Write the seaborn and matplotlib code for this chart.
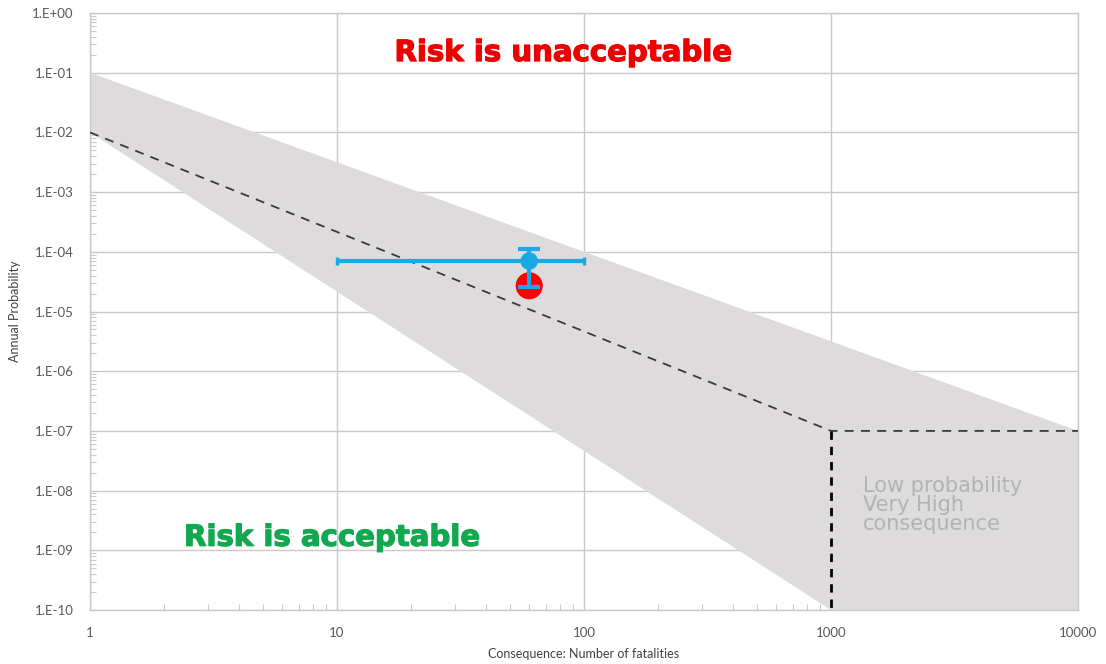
import numpy as np
import pandas as pd
import matplotlib
matplotlib.use("Agg")
import matplotlib.pyplot as plt
import matplotlib.patheffects as pe
import seaborn as sns
from matplotlib.ticker import LogLocator, FixedLocator, FuncFormatter

# Tolerability band (consequence, annual probability)
band_upper_x = [1, 10000]
band_upper_y = [1e-1, 1e-7]
band_lower_x = [1, 1000, 10000]
band_lower_y = [1e-2, 1e-10, 1e-10]

# Criterion line and cut-off
criterion_x = [1, 1000, 10000]
criterion_y = [1e-2, 1e-7, 1e-7]
cutoff_x = [1000, 1000]
cutoff_y = [1e-7, 1e-10]

# Estimated event
est_x = [60]
est_y = [7e-5]
est_xerr_lo = [10]
est_xerr_hi = [100]
est_yerr_lo = [2.6e-5]
est_yerr_hi = [1.1e-4]

# Reference event
ref_x = [60]
ref_y = [2.7e-5]

x_ticks = [1, 10, 100, 1000, 10000]
y_ticks = [1e-10, 1e-9, 1e-8, 1e-7, 1e-6, 1e-5, 1e-4, 1e-3, 1e-2, 1e-1, 1e0]

sns.set_theme(style="whitegrid")
plt.rcParams['font.family'] = ['Lato', 'DejaVu Sans']

fig = plt.figure(figsize=(11.06, 6.64), dpi=100)
ax = fig.add_axes([0.0814, 0.0813, 0.8933, 0.8991])
ax.set_xscale("log")
ax.set_yscale("log")

# Grey band
poly_x = band_upper_x + band_lower_x[::-1]
poly_y = band_upper_y + band_lower_y[::-1]
ax.fill(poly_x, poly_y, color="#dddbdb", lw=0, zorder=1)

crit = pd.DataFrame({"x": criterion_x, "y": criterion_y})
sns.lineplot(data=crit, x="x", y="y", ax=ax, color="#3a3a3a", lw=1.3,
             linestyle=(0, (5, 4)), zorder=3, sort=False)
cut = pd.DataFrame({"x": cutoff_x, "y": cutoff_y})
sns.lineplot(data=cut, x="x", y="y", ax=ax, color="black", lw=2.0,
             linestyle=(0, (3, 2.5)), zorder=3, sort=False, orient="y")

# Reference point (red)
ref = pd.DataFrame({"x": ref_x, "y": ref_y})
sns.scatterplot(data=ref, x="x", y="y", ax=ax, color="#ff0000", s=380,
                edgecolor="none", zorder=4)

# Estimate with uncertainty (blue)
xerr = np.array([[est_x[0] - est_xerr_lo[0]], [est_xerr_hi[0] - est_x[0]]])
yerr = np.array([[est_y[0] - est_yerr_lo[0]], [est_yerr_hi[0] - est_y[0]]])
ax.errorbar(est_x, est_y, xerr=xerr, fmt="none", ecolor="#1aa9e5",
            elinewidth=3, capsize=3, capthick=2.5, zorder=5)
ax.errorbar(est_x, est_y, yerr=yerr, fmt="none", ecolor="#1aa9e5",
            elinewidth=3, capsize=8, capthick=3, zorder=5)
est = pd.DataFrame({"x": est_x, "y": est_y})
sns.scatterplot(data=est, x="x", y="y", ax=ax, color="#1aa9e5", s=160,
                edgecolor="none", zorder=6)

ax.set_xlim(1, 10000)
ax.set_ylim(1e-10, 1)

ax.xaxis.set_major_locator(FixedLocator(x_ticks))
ax.yaxis.set_major_locator(FixedLocator(y_ticks))
ax.xaxis.set_minor_locator(LogLocator(base=10, subs=np.arange(2, 10), numticks=20))
ax.yaxis.set_minor_locator(LogLocator(base=10, subs=np.arange(2, 10), numticks=20))
ax.xaxis.set_major_formatter(FuncFormatter(lambda v, p: f"{v:g}"))
ax.yaxis.set_major_formatter(
    FuncFormatter(lambda v, p: "1.E" + ("+" if np.log10(v) >= 0 else "-") + f"{abs(int(round(np.log10(v)))):02d}"))
ax.yaxis.set_minor_formatter(plt.NullFormatter())
ax.xaxis.set_minor_formatter(plt.NullFormatter())

ax.grid(True, which="major", color="#c9c9c9", lw=1.0, zorder=0)
ax.grid(False, which="minor")
ax.set_axisbelow(True)
for s in ax.spines.values():
    s.set_color("#c9c9c9")
    s.set_linewidth(1.0)
ax.set_facecolor("white")

ax.tick_params(axis="both", which="major", length=0, labelsize=9.5,
               labelcolor="#595959", pad=12)
ax.tick_params(axis="both", which="minor", direction="in", length=4,
               color="#c9c9c9", width=0.8, bottom=True, left=True)

ax.set_xlabel("Consequence: Number of fatalities", fontsize=9, color="#404040", labelpad=7)
ax.set_ylabel("Annual Probability", fontsize=9, color="#404040", labelpad=8)

ax.text(0.479, 0.933, "Risk is unacceptable", transform=ax.transAxes,
        ha="center", va="center", fontsize=21, fontweight="bold",
        color="#ee0000", family=["DejaVu Sans"], zorder=7,
        path_effects=[pe.withStroke(linewidth=0.9, foreground="#ee0000")])
ax.text(0.245, 0.121, "Risk is acceptable", transform=ax.transAxes,
        ha="center", va="center", fontsize=21, fontweight="bold",
        color="#12a84f", family=["DejaVu Sans"], zorder=7,
        path_effects=[pe.withStroke(linewidth=0.9, foreground="#12a84f")])
ax.text(0.782, 0.224, "Low probability\nVery High\nconsequence", transform=ax.transAxes,
        ha="left", va="top", fontsize=15, color="#b3b3b3",
        family=["DejaVu Sans"], linespacing=0.93, zorder=7)

fig.savefig("out.png", dpi=100, facecolor="white")
